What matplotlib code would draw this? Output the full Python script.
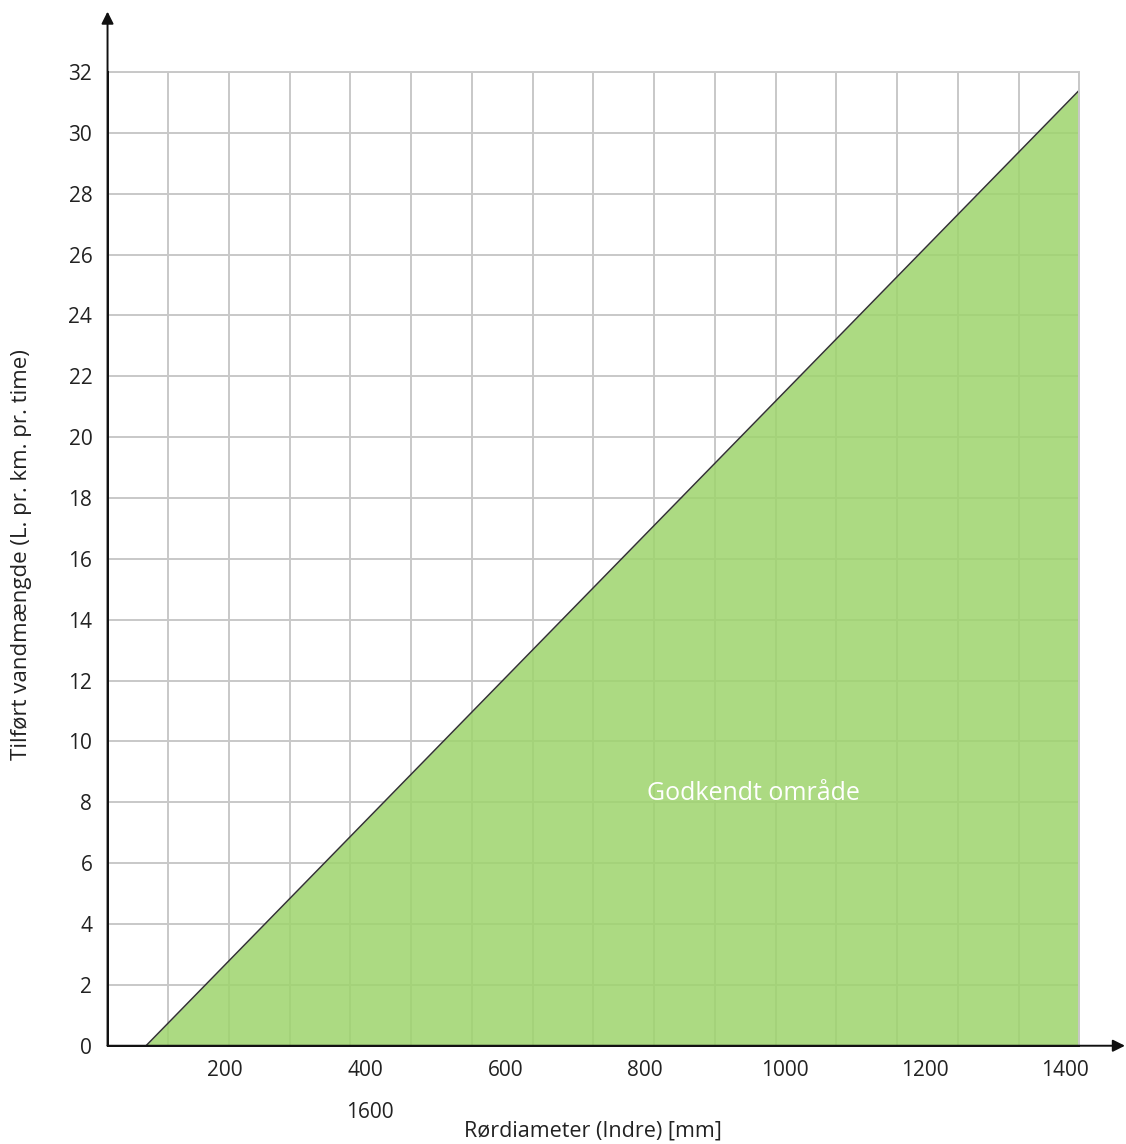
import numpy as np
import matplotlib
matplotlib.use("Agg")
import matplotlib.pyplot as plt

plt.rcParams['font.family'] = ['Open Sans', 'DejaVu Sans']

# boundary line of the approved area (diameter mm, water L/km/h)
diameter = [87, 1420]
water = [0, 31.4]

x_ticks = [200, 400, 600, 800, 1000, 1200, 1400]
y_ticks = list(range(0, 33, 2))
x_min, x_max = 32, 1420
grid_x = np.linspace(x_min, x_max, 17)

fig = plt.figure(figsize=(11.26, 11.44), dpi=100)
ax = fig.add_axes([0.0955, 0.0859, 0.863, 0.8512])

ax.set_xlim(x_min, x_max)
ax.set_ylim(0, 32)

# grid
ax.set_xticks(grid_x, minor=True)
ax.set_xticks(x_ticks)
ax.set_yticks(y_ticks)
ax.grid(axis='x', which='minor', color='#c8c8c8', lw=1.4, zorder=0)
ax.grid(axis='x', which='major', visible=False)
ax.grid(axis='y', which='major', color='#c8c8c8', lw=1.4, zorder=0)
ax.set_axisbelow(True)

ax.fill_between(diameter, water, 0, color='#9ed46c', alpha=0.85, lw=0, zorder=1)
ax.plot(diameter, water, color='#333333', lw=1.1, zorder=2)

ax.text(954, 8.3, 'Godkendt område', color='white', fontsize=18,
        ha='center', va='center', zorder=3)

ax.tick_params(axis='both', which='both', length=0, labelsize=15, colors='#222222')
ax.tick_params(axis='y', pad=11)
ax.tick_params(axis='x', pad=10)

for side in ['top', 'right']:
    ax.spines[side].set_color('#c8c8c8')
    ax.spines[side].set_linewidth(1.4)
for side in ['left', 'bottom']:
    ax.spines[side].set_color('#111111')
    ax.spines[side].set_linewidth(1.4)
    ax.spines[side].set_zorder(4)

# axis arrows
ax.annotate('', xy=(0, 1.062), xytext=(0, 0), xycoords='axes fraction',
            arrowprops=dict(arrowstyle='-|>', color='#111111', lw=1.4,
                            mutation_scale=18, shrinkA=0, shrinkB=0),
            annotation_clip=False)
ax.annotate('', xy=(1.047, 0), xytext=(0, 0), xycoords='axes fraction',
            arrowprops=dict(arrowstyle='-|>', color='#111111', lw=1.4,
                            mutation_scale=18, shrinkA=0, shrinkB=0),
            annotation_clip=False)

fig.text(370 / 1126, 1 - 1112 / 1144, '1600', fontsize=15, color='#222222',
         ha='center', va='center')

fig.text(593 / 1126, 1 - 1131 / 1144, 'Rørdiameter (Indre) [mm]', fontsize=15.5,
         color='#222222', ha='center', va='center')
fig.text(22 / 1126, 1 - 555 / 1144, 'Tilført vandmængde (L. pr. km. pr. time)',
         fontsize=16, color='#222222', ha='center', va='center', rotation=90)

fig.savefig('out.png', dpi=100)
